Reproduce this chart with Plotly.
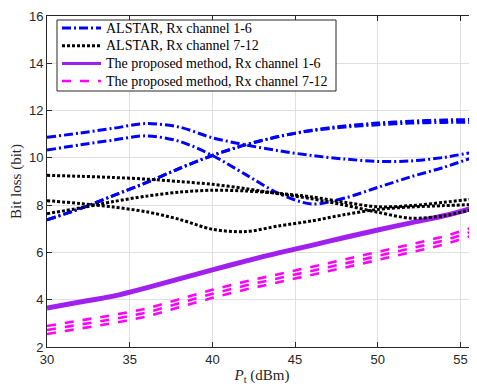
import plotly.graph_objects as go

# Transmit power (dBm)
pt = [30, 32, 34, 36, 38, 40, 42, 44, 46, 48, 50, 52, 54, 55.6]

# ALSTAR, Rx channel 1-6 (blue dash-dot)
alstar_a_1 = [10.87, 11.05, 11.25, 11.45, 11.3, 10.85, 10.55, 10.3, 10.1, 9.95, 9.85, 9.87, 10.02, 10.22]
alstar_a_2 = [10.33, 10.55, 10.75, 10.93, 10.7, 10.1, 9.3, 8.5, 8.05, 8.3, 8.75, 9.2, 9.6, 9.98]
alstar_a_3 = [7.38, 7.85, 8.4, 8.95, 9.55, 10.1, 10.55, 10.9, 11.15, 11.3, 11.4, 11.47, 11.5, 11.5]
alstar_a_4 = [7.38, 7.85, 8.4, 8.95, 9.55, 10.1, 10.55, 10.9, 11.17, 11.35, 11.47, 11.55, 11.6, 11.62]

# ALSTAR, Rx channel 7-12 (black dotted)
alstar_b_1 = [9.26, 9.22, 9.17, 9.1, 9.0, 8.88, 8.7, 8.48, 8.27, 8.0, 7.7, 7.45, 7.55, 7.8]
alstar_b_2 = [8.19, 8.07, 7.92, 7.72, 7.4, 6.98, 6.88, 7.12, 7.33, 7.6, 7.82, 7.92, 7.98, 8.02]
alstar_b_3 = [7.64, 7.88, 8.15, 8.38, 8.55, 8.63, 8.6, 8.5, 8.35, 8.12, 7.93, 7.98, 8.12, 8.25]

# The proposed method, Rx channel 1-6 (purple solid)
prop_a = [3.65, 3.9, 4.15, 4.5, 4.88, 5.26, 5.63, 5.98, 6.3, 6.63, 6.95, 7.25, 7.55, 7.85]

# The proposed method, Rx channel 7-12 (magenta dashed)
prop_b_1 = [2.89, 3.12, 3.35, 3.62, 4.02, 4.42, 4.77, 5.07, 5.4, 5.7, 6.02, 6.35, 6.67, 7.03]
prop_b_2 = [2.72, 2.95, 3.18, 3.45, 3.85, 4.25, 4.6, 4.9, 5.23, 5.53, 5.85, 6.18, 6.5, 6.86]
prop_b_3 = [2.55, 2.78, 3.01, 3.28, 3.68, 4.08, 4.43, 4.73, 5.06, 5.36, 5.68, 6.01, 6.33, 6.69]

legend_names = [
    "ALSTAR, Rx channel 1-6",
    "ALSTAR, Rx channel 7-12",
    "The proposed method, Rx channel 1-6",
    "The proposed method, Rx channel 7-12",
]

x_ticks = [30, 35, 40, 45, 50, 55]
y_ticks = [2, 4, 6, 8, 10, 12, 14, 16]

BLUE = "#0000ff"
BLACK = "#000000"
PURPLE = "#a020f0"
MAGENTA = "#ff00ff"

STYLE = {
    legend_names[0]: dict(color=BLUE, width=3, dash="9px,3px,2px,3px"),
    legend_names[1]: dict(color=BLACK, width=3, dash="3px,2px"),
    legend_names[2]: dict(color=PURPLE, width=5, dash="solid"),
    legend_names[3]: dict(color=MAGENTA, width=2.6, dash="9px,9px"),
}

fig = go.Figure()


def add(y, name, shape):
    st = STYLE[name]
    fig.add_trace(go.Scatter(
        x=pt, y=y, mode="lines", name=name, showlegend=False,
        line=dict(color=st["color"], width=st["width"], dash=st["dash"], shape=shape,
                  smoothing=0.9 if shape == "spline" else None),
    ))


# proposed method first (drawn underneath)
for y in [prop_b_1, prop_b_2, prop_b_3]:
    add(y, legend_names[3], "linear")
add(prop_a, legend_names[2], "spline")
for y in [alstar_a_1, alstar_a_2, alstar_a_3, alstar_a_4]:
    add(y, legend_names[0], "spline")
for y in [alstar_b_1, alstar_b_2, alstar_b_3]:
    add(y, legend_names[1], "spline")

# ---- layout geometry (the page renders the figure with an 8px body offset) ----
OFF = 8
W, H = 477, 392
ML, MR, MT, MB = 39, 8, 8, 53
PW = W - ML - MR          # plot width in px
PH = H - MT - MB          # plot height in px
LEFT = OFF + ML
BOTTOM = OFF + MT + PH


def px_x(px):  # rendered page px -> paper x
    return (px - LEFT) / PW


def px_y(py):  # rendered page px -> paper y
    return (BOTTOM - py) / PH


# ---- legend drawn as a box with sample lines and labels ----
shapes = [dict(type="rect", xref="paper", yref="paper",
               x0=px_x(57), x1=px_x(336), y0=px_y(91), y1=px_y(20),
               fillcolor="white", line=dict(color="#262626", width=1), layer="above")]
annotations = []
row_y = [28, 45.7, 63.5, 81]
for name, ry in zip(legend_names, row_y):
    st = STYLE[name]
    shapes.append(dict(type="line", xref="paper", yref="paper",
                       x0=px_x(62), x1=px_x(101), y0=px_y(ry), y1=px_y(ry),
                       line=dict(color=st["color"], width=min(st["width"], 3), dash=st["dash"]),
                       layer="above"))
    annotations.append(dict(xref="paper", yref="paper", x=px_x(104), y=px_y(ry),
                            text=name, showarrow=False, xanchor="left", yanchor="middle",
                            font=dict(family="Liberation Serif, Times New Roman, serif",
                                      size=14, color="#000000")))

axis_common = dict(
    showline=True, linecolor="#262626", linewidth=1,
    mirror="ticks", ticks="inside", ticklen=5, tickcolor="#262626",
    showgrid=True, gridcolor="#dfdfdf", gridwidth=1, zeroline=False,
    automargin=False, ticklabeloverflow="allow",
    tickfont=dict(family="Liberation Sans, Arial, sans-serif", size=13, color="#262626"),
)

fig.update_xaxes(
    range=[30, 56], tickvals=x_ticks,
    title=dict(text="<i>P</i><sub>t</sub> (dBm)", standoff=3,
               font=dict(family="Liberation Serif, Times New Roman, serif", size=15, color="#262626")),
    **axis_common,
)
fig.update_yaxes(
    range=[2, 16], tickvals=y_ticks,
    title=dict(text="Bit loss (bit)", standoff=3,
               font=dict(family="Liberation Serif, Times New Roman, serif", size=15, color="#262626")),
    **axis_common,
)

fig.update_layout(
    width=W, height=H,
    margin=dict(l=ML, r=MR, t=MT, b=MB),
    paper_bgcolor="white", plot_bgcolor="white",
    showlegend=False,
    shapes=shapes,
    annotations=annotations,
)

fig.write_html("out.html")
